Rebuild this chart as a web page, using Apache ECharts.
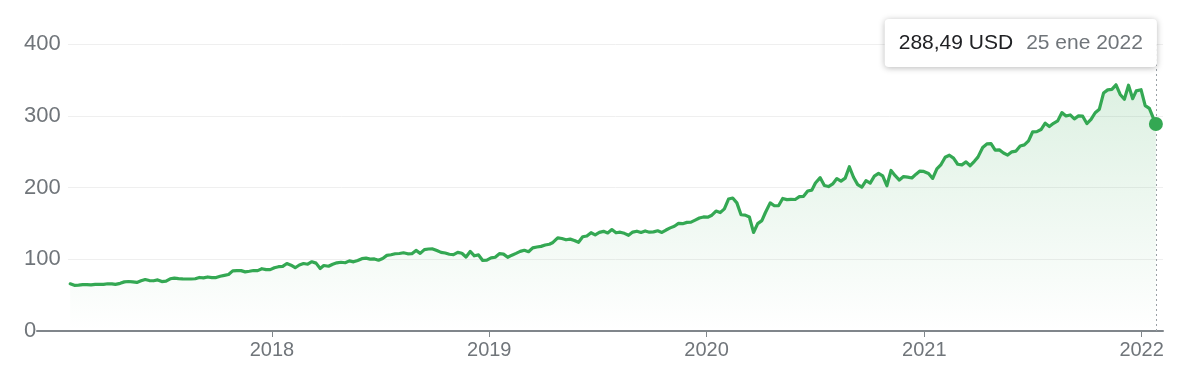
<!DOCTYPE html>
<html><head><meta charset="utf-8">
<script src="https://cdn.jsdelivr.net/npm/echarts@6/dist/echarts.min.js"></script>
<style>html,body{margin:0;padding:0;background:#fff}#c{width:1184px;height:379px}</style>
</head><body><div id="c"></div>
<script>
// Weekly closing prices (USD)
const weekDates = [
'2017-01-27',
'2017-02-03','2017-02-10','2017-02-17','2017-02-24',
'2017-03-03','2017-03-10','2017-03-17','2017-03-24','2017-03-31',
'2017-04-07','2017-04-13','2017-04-21','2017-04-28',
'2017-05-05','2017-05-12','2017-05-19','2017-05-26',
'2017-06-02','2017-06-09','2017-06-16','2017-06-23','2017-06-30',
'2017-07-07','2017-07-14','2017-07-21','2017-07-28',
'2017-08-04','2017-08-11','2017-08-18','2017-08-25',
'2017-09-01','2017-09-08','2017-09-15','2017-09-22','2017-09-29',
'2017-10-06','2017-10-13','2017-10-20','2017-10-27',
'2017-11-03','2017-11-10','2017-11-17','2017-11-24',
'2017-12-01','2017-12-08','2017-12-15','2017-12-22','2017-12-29',
'2018-01-05','2018-01-12','2018-01-19','2018-01-26',
'2018-02-02','2018-02-09','2018-02-16','2018-02-23',
'2018-03-02','2018-03-09','2018-03-16','2018-03-23','2018-03-29',
'2018-04-06','2018-04-13','2018-04-20','2018-04-27',
'2018-05-04','2018-05-11','2018-05-18','2018-05-25',
'2018-06-01','2018-06-08','2018-06-15','2018-06-22','2018-06-29',
'2018-07-06','2018-07-13','2018-07-20','2018-07-27',
'2018-08-03','2018-08-10','2018-08-17','2018-08-24','2018-08-31',
'2018-09-07','2018-09-14','2018-09-21','2018-09-28',
'2018-10-05','2018-10-12','2018-10-19','2018-10-26',
'2018-11-02','2018-11-09','2018-11-16','2018-11-23','2018-11-30',
'2018-12-07','2018-12-14','2018-12-21','2018-12-28',
'2019-01-04','2019-01-11','2019-01-18','2019-01-25',
'2019-02-01','2019-02-08','2019-02-15','2019-02-22',
'2019-03-01','2019-03-08','2019-03-15','2019-03-22','2019-03-29',
'2019-04-05','2019-04-12','2019-04-18','2019-04-26',
'2019-05-03','2019-05-10','2019-05-17','2019-05-24','2019-05-31',
'2019-06-07','2019-06-14','2019-06-21','2019-06-28',
'2019-07-05','2019-07-12','2019-07-19','2019-07-26',
'2019-08-02','2019-08-09','2019-08-16','2019-08-23','2019-08-30',
'2019-09-06','2019-09-13','2019-09-20','2019-09-27',
'2019-10-04','2019-10-11','2019-10-18','2019-10-25',
'2019-11-01','2019-11-08','2019-11-15','2019-11-22','2019-11-29',
'2019-12-06','2019-12-13','2019-12-20','2019-12-27',
'2020-01-03','2020-01-10','2020-01-17','2020-01-24','2020-01-31',
'2020-02-07','2020-02-14','2020-02-21','2020-02-28',
'2020-03-06','2020-03-13','2020-03-20','2020-03-27',
'2020-04-03','2020-04-09','2020-04-17','2020-04-24',
'2020-05-01','2020-05-08','2020-05-15','2020-05-22','2020-05-29',
'2020-06-05','2020-06-12','2020-06-19','2020-06-26',
'2020-07-02','2020-07-10','2020-07-17','2020-07-24','2020-07-31',
'2020-08-07','2020-08-14','2020-08-21','2020-08-28',
'2020-09-04','2020-09-11','2020-09-18','2020-09-25',
'2020-10-02','2020-10-09','2020-10-16','2020-10-23','2020-10-30',
'2020-11-06','2020-11-13','2020-11-20','2020-11-27',
'2020-12-04','2020-12-11','2020-12-18','2020-12-24','2020-12-31',
'2021-01-08','2021-01-15','2021-01-22','2021-01-29',
'2021-02-05','2021-02-12','2021-02-19','2021-02-26',
'2021-03-05','2021-03-12','2021-03-19','2021-03-26',
'2021-04-01','2021-04-09','2021-04-16','2021-04-23','2021-04-30',
'2021-05-07','2021-05-14','2021-05-21','2021-05-28',
'2021-06-04','2021-06-11','2021-06-18','2021-06-25',
'2021-07-02','2021-07-09','2021-07-16','2021-07-23','2021-07-30',
'2021-08-06','2021-08-13','2021-08-20','2021-08-27',
'2021-09-03','2021-09-10','2021-09-17','2021-09-24',
'2021-10-01','2021-10-08','2021-10-15','2021-10-22','2021-10-29',
'2021-11-05','2021-11-12','2021-11-19','2021-11-26',
'2021-12-03','2021-12-10','2021-12-17','2021-12-23','2021-12-31',
'2022-01-07','2022-01-14','2022-01-21','2022-01-25'
];
const closePrices = [
65.78,
63.68,64.00,64.62,64.62,
64.25,64.93,64.87,64.98,65.86,
65.68,64.95,66.40,68.46,
69.00,68.38,67.69,69.96,
71.76,70.32,70.00,71.21,68.93,
69.46,72.78,73.79,73.04,
72.68,72.50,72.49,72.82,
74.61,73.98,75.31,74.41,74.49,
76.29,77.49,78.81,83.81,
84.14,84.16,82.40,83.26,
84.26,84.16,86.85,85.51,85.54,
88.19,89.60,90.00,94.06,
91.78,88.18,92.00,94.06,
93.05,96.54,94.60,87.18,91.27,
90.23,93.08,95.00,95.82,
95.16,97.70,96.36,98.36,
100.79,101.63,100.13,100.41,98.61,
101.16,105.43,106.27,107.68,
108.04,109.00,107.58,107.66,112.33,
108.21,113.37,114.26,114.37,
112.13,109.57,108.66,106.96,
106.49,109.57,108.29,103.07,110.89,
104.82,106.03,98.23,98.89,
101.93,102.80,107.71,107.17,
102.78,105.67,108.22,110.97,
112.53,110.51,115.91,117.05,117.94,
119.89,120.95,123.37,129.89,
128.90,127.13,128.07,126.24,123.68,
131.40,132.45,136.97,133.96,
137.46,138.90,136.62,141.34,
136.90,137.71,136.13,133.39,137.86,
139.10,137.32,139.44,137.73,
138.12,139.68,137.41,140.73,
143.72,145.96,149.97,149.59,151.38,
151.75,154.53,157.41,158.96,
158.62,161.34,167.10,165.04,170.23,
183.89,185.35,178.59,162.01,
161.57,158.83,137.35,149.70,
153.83,165.14,178.60,174.55,
174.57,184.68,183.16,183.51,183.25,
187.20,187.74,195.15,196.33,
206.26,213.67,202.88,201.30,205.01,
212.48,208.90,213.02,228.91,
214.25,204.03,200.39,209.44,
206.19,215.81,219.66,216.23,202.47,
223.72,216.51,210.39,215.23,
214.36,213.26,218.59,222.75,222.42,
219.62,212.65,225.95,231.96,
242.20,244.99,240.97,232.38,
231.60,235.75,230.35,236.48,
242.35,255.85,260.74,261.15,252.18,
252.46,248.15,245.17,249.68,
250.79,257.89,259.43,265.02,
277.65,277.94,280.75,289.67,284.91,
289.46,292.85,304.36,299.72,
301.14,295.71,299.87,299.35,
289.10,294.85,304.21,309.16,331.62,
336.06,336.72,343.11,329.68,
323.01,342.54,323.80,334.69,336.32,
314.04,310.20,296.03,288.49
];
const yTicks = [0, 100, 200, 300, 400];
const yearTicks = [2018, 2019, 2020, 2021, 2022];
const currency = 'USD';
const monthNames = ['ene','feb','mar','abr','may','jun','jul','ago','sep','oct','nov','dic'];

const green = '#34a853';
const grayText = '#70757a';
const FONT = 'Arial, "Liberation Sans", sans-serif';

function toStamp(s) {
  const p = s.split('-').map(Number);
  return new Date(p[0], p[1] - 1, p[2]).getTime();
}

const lastIdx = closePrices.length - 1;
const lastDate = weekDates[lastIdx];
const lastStamp = toStamp(lastDate);
const lastParts = lastDate.split('-').map(Number);
const tipValue = closePrices[lastIdx].toFixed(2).replace('.', ',') + ' ' + currency;
const tipDate = lastParts[2] + ' ' + monthNames[lastParts[1] - 1] + ' ' + lastParts[0];

const yearStamps = yearTicks.map(y => new Date(y, 0, 1).getTime());
const xMin = new Date(2016, 11, 2, 5).getTime();
const xMax = new Date(2022, 1, 5, 22).getTime();

const chart = echarts.init(document.getElementById('c'), null, {renderer: 'canvas'});
chart.setOption({
  animation: false,
  backgroundColor: '#fff',
  grid: [
    {left: 68, right: 21, top: 44, bottom: 48},
    {left: 37, right: 21, top: 44, bottom: 48}
  ],
  xAxis: [
    {gridIndex: 0, type: 'value', min: 0, max: 1, show: false},
    {
      gridIndex: 1, type: 'value', min: xMin, max: xMax,
      axisLine: {show: true, lineStyle: {color: '#80868b', width: 2}},
      axisTick: {show: true, customValues: yearStamps, length: 6, lineStyle: {color: '#80868b', width: 1}},
      axisLabel: {
        show: true, customValues: yearStamps, color: grayText, fontSize: 20, fontFamily: FONT, margin: 9,
        formatter: v => String(new Date(v).getFullYear())
      },
      splitLine: {show: false}
    }
  ],
  yAxis: [
    {
      gridIndex: 0, type: 'value', min: yTicks[0], max: yTicks[yTicks.length - 1], interval: 100,
      axisLine: {show: false}, axisTick: {show: false}, axisLabel: {show: false},
      splitLine: {show: true, lineStyle: {color: '#efefef', width: 1}}
    },
    {
      gridIndex: 1, type: 'value', min: yTicks[0], max: yTicks[yTicks.length - 1], interval: 100,
      axisLine: {show: false}, axisTick: {show: false},
      axisLabel: {show: true, align: 'left', margin: 13, color: grayText, fontSize: 22, fontFamily: FONT},
      splitLine: {show: false}
    }
  ],
  series: [
    {
      type: 'line', xAxisIndex: 1, yAxisIndex: 1, z: 2,
      data: weekDates.map((d, i) => [toStamp(d), closePrices[i]]),
      showSymbol: false, smooth: false, silent: true,
      lineStyle: {color: green, width: 3.2, join: 'round', cap: 'round'},
      areaStyle: {
        color: new echarts.graphic.LinearGradient(0, 0, 0, 1, [
          {offset: 0, color: 'rgba(52,168,83,0.24)'},
          {offset: 1, color: 'rgba(52,168,83,0.0)'}
        ])
      },
      markLine: {
        silent: true, symbol: 'none', animation: false,
        label: {show: false},
        lineStyle: {type: [2, 3], color: '#9aa0a6', width: 1},
        data: [{xAxis: lastStamp}]
      }
    },
    {
      type: 'scatter', xAxisIndex: 1, yAxisIndex: 1, z: 5, silent: true,
      data: [[lastStamp, closePrices[lastIdx]]],
      symbol: 'circle', symbolSize: 14,
      itemStyle: {color: green, opacity: 1},
      label: {
        show: true, position: 'top', distance: 50, align: 'right', offset: [1, 0],
        backgroundColor: '#ffffff', borderRadius: 4, padding: [13, 14, 13, 14],
        shadowBlur: 6, shadowColor: 'rgba(0,0,0,0.28)', shadowOffsetY: 1,
        formatter: '{v|' + tipValue + '}{g| }{d|' + tipDate + '}',
        rich: {
          v: {fontSize: 21, color: '#202124', fontFamily: FONT, lineHeight: 22},
          g: {width: 13, fontSize: 21, lineHeight: 22},
          d: {fontSize: 21, color: grayText, fontFamily: FONT, lineHeight: 22}
        }
      }
    }
  ]
});
</script>
</body></html>
